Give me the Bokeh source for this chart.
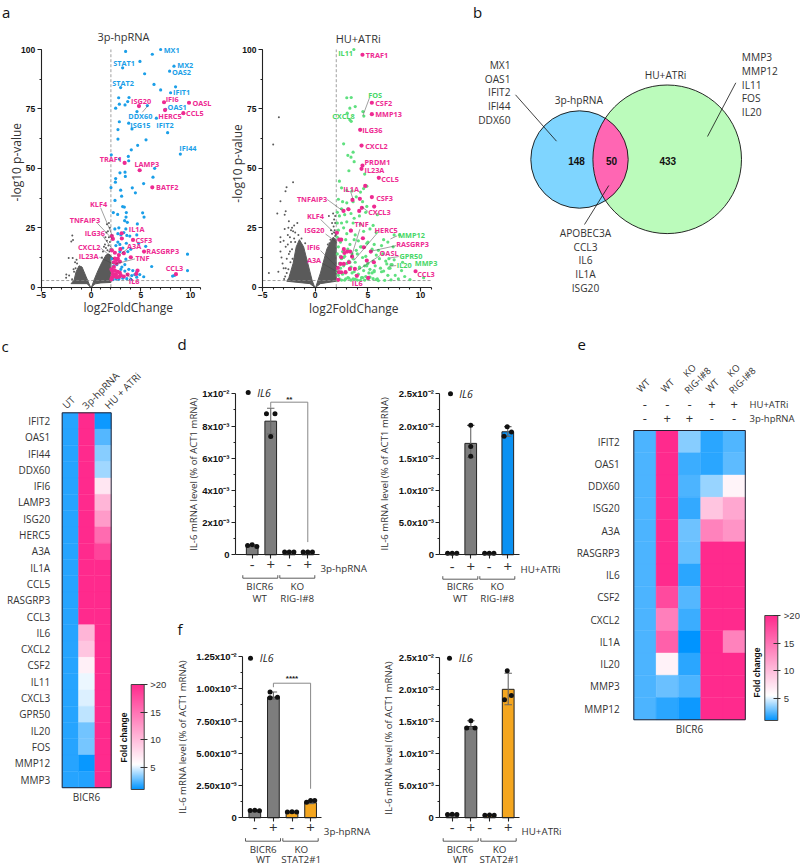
import math
import numpy as np
from bokeh.plotting import figure
from bokeh.layouts import row, column
from bokeh.embed import file_html
from bokeh.resources import INLINE
from bokeh.core.properties import value
from bokeh.models import (Range1d, LinearAxis, SingleIntervalTicker, FixedTicker,
                          LinearColorMapper, ColorBar, ColumnDataSource)
from bokeh.transform import transform

# ---------------- DATA ----------------
a_blue_x = [3.48,6.16,7.0,4.92,3.18,5.39,8.34,7.9,6.33,2.98,7.0,8.5,8.0,2.78,3.82,3.69,3.42,2.85,2.48,4.62,5.66,7.5,6.57,2.85,2.71,3.79,4.12,7.7,2.71,5.53,4.69,4.05,8.98,2.04,3.75,2.85,3.79,6.4,3.42,2.91,2.48,2.45,3.45,6.23,5.29,4.15,2.01,2.98,4.46,2.41,3.08,3.18,3.35,2.24,2.68,3.55,5.19,5.33,3.52,3.38,3.65,4.66,3.5,3.3,2.4,2.8,3.0,2.7,3.6,3.9,4.6,2.5,2.9,3.55,5.5,4.8,3.2,2.9,3.7,4.0,2.7,3.5,3.4,3.1,3.8,4.2,4.6,5.3,4.6,4.9,4.4,4.1,6.1,8.2,8.4,9.7,9.7,3.6,4.0,3.2,2.5,2.8,2.2,2.3,2.6,3.0,3.4,2.1]
a_blue_y = [99.2,98,100,95,92.3,89.8,93,90.9,85.3,84,83,84.3,81.8,79.7,79.8,78.1,76.7,77,75.3,73.9,76.4,74.8,71.1,69.6,66.3,69,66.6,65,62.3,62,59.7,57.8,56,55.7,55,53.9,53.2,50,48.4,48.1,45.7,44.2,46.6,46.3,43.6,41.8,41.9,40.8,39.7,36.5,38.3,33.9,33.7,31.4,30.6,31.4,31.3,29.5,29.5,28,27.3,26.6,24.5,23,24.5,25,22,22.5,21.8,21.5,22,17.5,18,18.5,17.2,18.4,16.5,15,15,16,19,11.8,9.5,8.5,7.5,7,6.5,4.4,4.2,5.3,5.3,4.9,8.7,4.7,5,13.9,7,3.6,3.3,3.8,3.5,3.4,3.2,9,9.5,7.5,6.8,12]
a_pink_x = [4.82,7.34,9.85,9.28,7.44,3.38,4.89,6.16,3.08,2.1,2.2,3.1,4.22,2.1,2.4,2.95,3.3,2.8,5.33,2.4,2.55,2.7,2.3,2.9,2.55,4.0,2.3,2.05,2.15,2.4,2.2,2.5,2.7,2.9,3.0,3.3,3.68,2.1,2.3,2.6,2.05,2.85,4.68,4.55,8.54]
a_pink_y = [76.2,77.8,77.6,73.2,74.5,52.3,49.2,42,22.7,21.5,20.3,20.5,19.9,15.5,14.5,16,14.3,13.5,15,12,11.5,12,10.5,10.8,10,12.6,8.5,7.5,6.8,7,5.5,5.5,6.5,6,5,4.5,5.3,4,4.5,4.2,3.3,4.4,7,5.6,5.5]
a_gray_x = [-1.88,-1.81,-1.98,-2.24,-1.84,-2.48,-2.2,-2.5,-1.75,-1.6,-1.9,1.8,1.6,1.9,1.55,1.7,1.45,1.8,1.6,1.4,1.9,1.75,1.5,1.2,1.3,1.95,1.85,1.65,1.95,1.85,1.1,-1.4,-1.55,-1.7,-1.45]
a_gray_y = [21.7,19.9,19.2,12.3,12.3,5.3,4.9,4,7.5,10.5,3.3,27,26.5,25,23,23.5,21,21,19.5,18,19,17.5,16.5,15,17,16,15,15.5,13,12,12.5,10,8,6.5,11.5]
a_left_lobe_x = [-0.05,-0.4,-2.0,-1.7,-1.5,-1.2,-0.9,-0.5,-0.2]
a_left_lobe_y = [0,1.5,1.5,3,6.5,9,8.5,4.5,1.5]
a_right_lobe_x = [0.05,0.35,0.7,1.1,1.5,1.8,2.0,2.0,1.0,0.4]
a_right_lobe_y = [0,3.5,7,10.5,13.5,14,13,2,1.8,1.4]
a_blue_names = ["MX1","STAT1","MX2","OAS2","STAT2","IFIT1","OAS1","DDX60","ISG15","IFIT2","IFI44"]
a_pink_names = ["ISG20","IFI6","OASL","HERC5","CCL5","TRAF1","LAMP3","BATF2","KLF4","TNFAIP3","IL1A","ILG36","CSF3","CXCL2","A3A","RASGRP3","IL23A","TNF","CCL3","IL6"]

b_green_x = [3.67,3.0,3.42,3.8,3.29,4.53,4.62,3.04,3.29,3.42,2.7,3.1,3.6,3.4,3.7,3.2,4.7,2.3,2.5,3.0,3.5,4.3,4.6,4.9,2.2,2.6,3.0,3.6,3.9,4.5,4.9,5.9,2.1,2.5,2.3,3.1,3.4,2.8,3.7,4.2,4.8,2.1,2.5,3.0,3.6,4.3,5.5,2.2,2.7,3.0,3.4,3.8,4.6,5.2,5.8,6.5,7.5,8.0,6.9,7.4,6.3,5.6,5.0,2.1,2.4,2.9,3.3,3.7,4.1,4.4,4.9,5.4,6.0,2.2,2.6,3.1,3.5,3.9,4.3,4.8,5.3,5.8,6.4,7.0,2.1,2.5,2.8,3.2,3.6,4.0,4.5,5.0,5.5,6.1,6.7,7.2,2.3,2.7,3.0,3.4,3.8,4.2,4.7,5.2,5.7,6.2,7.1,7.3,8.2,2.1,2.4,2.9,3.3,3.7,4.1,4.6,5.1,5.6,6.3,6.9,7.6,8.5,2.2,2.6,3.1,3.5,3.9,4.4,4.8,5.4,5.9,6.5,7.0,7.9,9.0,10.3,2.3,2.8,3.2,3.6,4.0,4.5,5.0,5.5,6.0,6.6,7.2,2.1,2.5,2.9,3.4,3.8,4.3,4.7,5.2,5.8,6.8,7.5,8.3,2.4,2.7,3.3,4.2,4.9,5.6,6.2,7.0,8.8]
b_green_y = [100,79.7,79.8,76,75.3,73.9,72,73.2,70.4,69.8,60.3,55.5,56.8,54.7,52.8,49,47.6,44.6,41.8,40.7,40.5,40,41.5,42.5,37,36,35.5,36,38,36,34,30.5,31.5,33,30,33,31,30.5,29,30,31.5,27,27,27.5,27,26.5,26,24,25,22.5,24,22,23.5,24.5,23,20,22,22,19,17,17.5,18,19,21,19,20,18,20,19.5,17,18.5,16,15.5,17,15,16,14,15.5,17,13,15,13.5,14,12,14,12,13,11,12,14,12.5,10,11,12,11,9.5,10,9,10,8.5,10.5,8,9,7.5,9,8,8,9.5,7,6.5,8,6,7.5,6.5,5.5,7,6,7,6.5,5,5,4.5,5,5.5,4,6,5,4,4.5,6,3.5,6.8,8,3.5,3.2,4,3.5,3,3.8,3.5,3,4,3.5,3.6,2.8,2.9,3.1,2.8,3,3.5,3,3.4,2.9,3,4.2,3.2,9.8,11.5,10.5,13,12.5,10.5,8.5,9,6.5]
b_pink_x = [4.49,5.38,5.38,4.27,4.4,4.49,4.4,6.04,3.54,4.24,5.38,4.75,5.6,4.43,4.18,2.69,3.16,2.06,2.28,2.47,3.39,4.53,4.62,5.28,2.72,3.04,3.32,3.5,2.47,2.78,4.9,5.57,3.2,2.4,2.72,2.15,3.29,3.77,2.25,2.88,2.47,3.96,5.03,9.53,2.18]
b_pink_y = [97.8,77.6,72.8,66.2,59.6,51.2,49.8,46,36.7,37.2,37.9,42.6,33.9,33.4,32.1,32.1,32.8,22.9,20,20,23.8,20.6,16.8,15,16,15,15,12.9,12.6,14.4,11.2,10.5,10.5,9.8,9.8,8.1,7.7,7.7,6.3,6.3,6.3,4.8,3.9,6.7,3.1]
b_gray_x = [-3.45,-3.99,-2.1,-2.72,-2.82,-3.3,-3.6,-2.8,-2.9,-2.5,-2.55,-2.9,-2.3,-2.1,-1.9,-3.3,-3.3,-3.0,-2.6,-2.8,-3.3,-3.2,-3.1,-3.0,-4.4,-3.5,-2.8,-2.7,-2.5,-1.7,-2.4,-2.2,-2.0,-2.3,-2.6,1.3,1.7,1.9,1.9,1.85,1.75,1.5,1.95,1.6,1.8,-2.0,-2.2,-2.4,-1.9,-2.15,-2.35,-2.55,-2.7,-2.85,-2.95,1.2,1.45,1.6,1.8,1.35,1.9,-0.95,-1.3,-1.6]
b_gray_y = [71.5,60,44.2,42,40.4,36.2,31,32,30.5,27.7,25,24.5,24,23.5,23,21,19,19.5,18,17,15,12.5,10,8,6,6.5,8,12,14,27,21,25,26,19,22,30,31,30,27,24,25.5,24,22,27,28.5,20.5,16,15,19,12,10.5,7.5,6,4.5,3.5,18,20,22.5,23,18.5,21.5,18.5,20.5,22]
b_left_lobe_x = [-0.05,-0.3,-0.7,-1.1,-1.5,-1.8,-2.1,-2.5,-2.7,-0.5]
b_left_lobe_y = [0,3,10,17,20,17,10,4,2.5,1.5]
b_right_lobe_x = [0.05,0.5,1.1,1.7,2.0,2.0,0.5]
b_right_lobe_y = [0,6,16,21,20,2.5,1.5]
b_green_names = ["IL11","FOS","CXCL8","MMP12","GPR50","IL20","MMP3"]
b_pink_names = ["TRAF1","CSF2","MMP13","ILG36","CXCL2","PRDM1","IL23A","CCL5","IL1A","CSF3","TNFAIP3","CXCL3","KLF4","TNF","ISG20","HERC5","RASGRP3","IFI6","OASL","A3A","IL6","CCL3"]

venn_counts = ["148","50","433"]
venn_left = ["MX1","OAS1","IFIT2","IFI44","DDX60"]
venn_right = ["MMP3","MMP12","IL11","FOS","IL20"]
venn_mid = ["APOBEC3A","CCL3","IL6","IL1A","ISG20"]

c_genes = ["IFIT2","OAS1","IFI44","DDX60","IFI6","LAMP3","ISG20","HERC5","A3A","IL1A","CCL5","RASGRP3","CCL3","IL6","CXCL2","CSF2","IL11","CXCL3","GPR50","IL20","FOS","MMP12","MMP3"]
c_cols = ["UT","3p-hpRNA","HU + ATRi"]
c_ut = [1.74]*23
c_3p = [20]*13 + [10.5,9.4,6.5,5.2,4.9,4.4,3.05,3.15,1.2,1.6]
c_hu = [1.25,2.5,3.4,3.85,7.2,10.5,12.3,15.6,18.2] + [20]*14

e_genes = ["IFIT2","OAS1","DDX60","ISG20","A3A","RASGRP3","IL6","CSF2","CXCL2","IL1A","IL20","MMP3","MMP12"]
e_wt = [2.35]*13
e_wt_3p = [20,20,20,20,20,20,20,17.8,14.2,16.3,6.4,2.9,1.75]
e_ko_3p = [3.4,2.1,2.4,1.95,2.95,2.85,1.8,2.55,2.05,1.0,1.8,2.35,1.25]
e_wt_hu = [1.8,1.75,3.7,9.4,14,20,20,20,20,20,20,20,20]
e_ko_hu = [2.45,2.7,6.2,11.5,12.8,20,20,20,20,14,20,20,20]
e_hu_signs = ["-","-","-","+","+"]
e_3p_signs = ["-","+","+","-","-"]

d1_means = [0.00055,0.0083,0.00018,0.00018]
d1_lo = [0.00050,0.0075,0.00015,0.00015]
d1_hi = [0.00062,0.0091,0.00021,0.00021]
d1_pts = [[0.00058,0.00062,0.00052],[0.00876,0.00735,0.00876],[0.00018,0.00018,0.00018],[0.00018,0.00018,0.00018]]
d2_means = [0.00025,0.0173,0.00025,0.0191]
d2_lo = [0.0002,0.0151,0.0002,0.0184]
d2_hi = [0.0003,0.0201,0.0003,0.0199]
d2_pts = [[0.00025,0.00025,0.00025],[0.0201,0.0168,0.0153],[0.00025,0.00025,0.00025],[0.0184,0.0199,0.01905]]
f1_means = [0.00055,0.00935,0.00045,0.00116]
f1_lo = [0.0005,0.0092,0.0004,0.0011]
f1_hi = [0.0006,0.00975,0.0005,0.00134]
f1_pts = [[0.00057,0.00058,0.00055],[0.0093,0.00974,0.00935],[0.00045,0.00047,0.00045],[0.00121,0.00134,0.00134]]
f2_means = [0.0005,0.0142,0.0004,0.02]
f2_lo = [0.00045,0.0138,0.00035,0.0176]
f2_hi = [0.00055,0.0151,0.00045,0.0225]
f2_pts = [[0.0005,0.00055,0.0005],[0.01396,0.0151,0.01396],[0.0004,0.00042,0.0004],[0.01837,0.02288,0.01905]]
d1_yticks = [0,0.002,0.004,0.006,0.008,0.01]
d1_ylabels = ["0","2x10⁻³","4x10⁻³","6x10⁻³","8x10⁻³","1x10⁻²"]
d2_yticks = [0,0.005,0.01,0.015,0.02,0.025]
d2_ylabels = ["0","5.0x10⁻³","1.0x10⁻²","1.5x10⁻²","2.0x10⁻²","2.5x10⁻²"]
f1_yticks = [0,0.0025,0.005,0.0075,0.01,0.0125]
f1_ylabels = ["0","2.50x10⁻³","5.00x10⁻³","7.50x10⁻³","1.00x10⁻²","1.25x10⁻²"]
f2_yticks = d2_yticks
f2_ylabels = d2_ylabels
bar_signs = ["-","+","-","+"]
d_groups = ["WT","RIG-I#8"]
f_groups = ["WT","STAT2#1"]

# ---------------- STYLE / HELPERS ----------------
SANS = "Open Sans"
ARIAL = "Liberation Sans"
PINK = "#ee2a92"
BLUE = "#1b9fe8"
GREEN = "#5fe07f"
GRAY = "#5a5a5a"
TEXTC = "#333333"
LEAD = "#444444"
J3 = [-0.25, 0.0, 0.25]
d1_jit = [J3, [-0.23, 0.0, 0.23], J3, J3]
d2_jit = [J3, [0, 0, 0], J3, [-0.2, -0.03, 0.2]]
f1_jit = [J3, [-0.18, -0.18, 0.22], J3, [-0.22, 0.0, 0.22]]
f2_jit = [J3, [-0.22, 0.0, 0.22], J3, [-0.2, -0.05, 0.17]]

def make_fig(fx0, fx1, fy0, fy1, x_px, x_s, y_px, y_s, x_v=0.0, y_v=0.0):
    xd = lambda px: x_v + (px - x_px) / x_s
    yd = lambda px: y_v + (y_px - px) / y_s
    p = figure(width=fx1 - fx0, height=fy1 - fy0,
               x_range=Range1d(xd(fx0), xd(fx1)), y_range=Range1d(yd(fy1), yd(fy0)),
               output_backend="svg", toolbar_location=None,
               x_axis_location=None, y_axis_location=None,
               min_border=0, min_border_left=0, min_border_right=0, min_border_top=0, min_border_bottom=0,
               outline_line_color=None, tools="")
    p.grid.visible = False
    return p, xd, yd

def txt(p, x, y, s, size, color=TEXTC, font=SANS, align="left", baseline="middle", style="normal", angle=0):
    p.text(x=[x], y=[y], text=[s], text_font=value(font), text_font_size=f"{size}px",
           text_color=color, text_align=align, text_baseline=baseline, text_font_style=style, angle=angle)

def style_axis(ax, lw=1.1):
    ax.axis_line_color = "#222222"
    ax.axis_line_width = lw
    ax.major_tick_line_color = "#222222"
    ax.minor_tick_line_color = "#222222"
    ax.major_tick_line_width = lw
    ax.minor_tick_line_width = lw

def volcano(fx0, fx1, x0px, xs, title, title_x, title_y, letter, ylab, xlab):
    p, xd, yd = make_fig(fx0, fx1, 0, 322, x0px, xs, 286.7, 2.377)
    xa = LinearAxis(ticker=SingleIntervalTicker(interval=5, num_minor_ticks=5), fixed_location=0, bounds=(-5, 11))
    ya = LinearAxis(ticker=SingleIntervalTicker(interval=25, num_minor_ticks=2), fixed_location=-5, bounds=(0, 100))
    for ax in (xa, ya):
        style_axis(ax)
        ax.major_tick_in = 0
        ax.minor_tick_in = 0
        ax.major_tick_out = 4
        ax.minor_tick_out = 2
        ax.major_label_text_font = ARIAL
        ax.major_label_text_font_style = "bold"
        ax.major_label_text_font_size = "8.5px"
        ax.major_label_text_color = "#111111"
    xa.major_label_standoff = 1
    ya.major_label_standoff = 2
    p.add_layout(xa, "below")
    p.add_layout(ya, "left")
    txt(p, xd(xlab[0]), yd(xlab[1]), "log2FoldChange", 12, align="center")
    txt(p, xd(ylab[0]), yd(ylab[1]), "-log10 p-value", 12, align="center", angle=math.pi / 2)
    txt(p, xd(title_x), yd(title_y), title, 11, align="center")
    if letter:
        txt(p, xd(1.5), yd(11), letter, 15, color="#111111")
    return p, xd, yd

def gray_cloud(p, lobes, gx, gy):
    for lx, ly in lobes:
        p.patch(lx, ly, fill_color=GRAY, line_color=GRAY, line_width=1)
    p.scatter(gx, gy, size=2, color=GRAY, line_color=None)

def thresholds(p):
    p.line([2, 2], [0, 100], line_color="#888888", line_width=0.8, line_dash="3 2")
    p.line([-5, 11], [2.8, 2.8], line_color="#888888", line_width=0.8, line_dash="3 2")

def labels(p, names, xs, ys, color):
    p.text(x=xs, y=ys, text=names, text_font=value(SANS), text_font_size="7.3px", text_color=color,
           text_font_style="bold", text_align="left", text_baseline="middle")

def leaders(p, segs):
    p.segment([s[0] for s in segs], [s[1] for s in segs], [s[2] for s in segs], [s[3] for s in segs],
              line_color=LEAD, line_width=0.5)

# ---- volcano a ----
va, _, _ = volcano(0, 228, 90.5, 9.95, "3p-hpRNA", 123, 35.7, "a", (15.7, 161.7), (127.7, 307.3))
gray_cloud(va, [(a_left_lobe_x, a_left_lobe_y), (a_right_lobe_x, a_right_lobe_y)], a_gray_x, a_gray_y)
thresholds(va)
va.scatter(a_blue_x, a_blue_y, size=3.2, color=BLUE, line_color=None)
va.scatter(a_pink_x, a_pink_y, size=4.2, color=PINK, line_color=None)
leaders(va, [(0.97,33.4,2.14,21.7),(0.64,26.9,2.14,20.3),(1.14,21.7,2.14,16.1),(.97,16.5,2.31,11.9),(.84,12.6,2.24,9.8),
             (4.42,11.9,2.48,9.8),(4.25,2.8,3.48,5.9),(5.16,73.6,5.73,76.4),(3.65,16.1,2.98,14)])
labels(va, a_blue_names, [7.30,2.24,8.68,8.14,2.14,8.24,7.7,3.75,3.95,6.57,8.88],
       [99.9,94.5,93.4,90.5,86.1,82,75.7,72.1,68.4,68.4,58.5], BLUE)
labels(va, a_pink_names, [4.02,7.5,10.2,6.77,9.55,0.87,4.36,6.53,-0.1,-2.14,3.79,-0.64,4.46,-1.31,3.62,5.56,-1.24,4.46,7.5,3.79],
       [78.3,79.1,77.6,72,73.2,53.9,51.8,42.1,35.1,28.3,24.4,23,19.9,17,17.3,15.1,13,12.3,8,2.4], PINK)

# ---- volcano b ----
vb, _, _ = volcano(228, 462, 314.7, 10.53, "HU+ATRi", 357.7, 38, None, (237.3, 163), (353.3, 308))
gray_cloud(vb, [(b_left_lobe_x, b_left_lobe_y), (b_right_lobe_x, b_right_lobe_y)], b_gray_x, b_gray_y)
thresholds(vb)
vb.scatter(b_green_x, b_green_y, size=3.2, color=GREEN, line_color=None)
vb.scatter(b_pink_x, b_pink_y, size=4.2, color=PINK, line_color=None)
leaders(vb, [(5.16,79.7,4.53,72.2),(1.14,36.9,2.56,32.3),(.51,28.5,2.09,21.7),(.98,22.4,2.09,18.7),(.51,15.4,2.09,8.4),
             (.66,10.1,2.15,6.3),(4.24,24.4,3.42,12.6),(5.82,22.4,3.67,11.2),(7.69,17.5,5.25,15.1),(6.14,13.3,3.99,7),
             (5.03,31.8,4.46,33.7),(3.35,40.4,3.58,37.2),(7.94,12.9,7.09,12.3),(7.69,9.1,6.99,8.8),(7.78,21.6,7.15,20.3)])
labels(vb, b_green_names, [2.18,5.03,1.61,7.88,8.0,7.75,9.46], [98.6,81,72,21.9,13.3,9.4,10.2], "#47d767")
labels(vb, b_pink_names, [4.81,5.7,5.7,4.46,4.75,4.68,4.68,6.27,2.66,5.79,-1.74,5.03,-0.79,3.73,-1.04,5.63,7.69,-0.79,6.11,-0.79,3.48,9.68],
       [97.8,77.3,72.9,66.2,59.6,52.7,49.5,45.7,41.5,37.7,37.2,31.6,29.9,26.4,24.1,24.1,18,16.8,14.4,11.5,1.8,5.6], PINK)

# ---- venn b (page-pixel diagram) ----
vn, vx, vy = make_fig(462, 800, 0, 322, 0, 1, 0, -1)
c1 = (579.0, 159.0, 48.7)
c2 = (666.7, 158.8, 74.3)
vn.scatter([c1[0]], [c1[1]], size=2 * c1[2], fill_color="#7fd5ff", line_color=None)
vn.scatter([c2[0]], [c2[1]], size=2 * c2[2], fill_color="#bbfbbb", line_color=None)
d = c2[0] - c1[0]
a_ = (d**2 + c1[2]**2 - c2[2]**2) / (2 * d)
ang1 = math.acos(a_ / c1[2])
ang2 = math.acos((d - a_) / c2[2])
t1 = np.linspace(-ang1, ang1, 60)
t2 = np.linspace(math.pi - ang2, math.pi + ang2, 60)
lens_x = np.concatenate([c1[0] + c1[2] * np.cos(t1), c2[0] + c2[2] * np.cos(t2)])
lens_y = np.concatenate([c1[1] + c1[2] * np.sin(t1), c2[1] + c2[2] * np.sin(t2)])
vn.patch(lens_x, lens_y, fill_color="#ff66b3", line_color=None)
vn.scatter([c1[0]], [c1[1]], size=2 * c1[2], fill_color=None, line_color="#111111", line_width=0.9)
vn.scatter([c2[0]], [c2[1]], size=2 * c2[2], fill_color=None, line_color="#111111", line_width=0.9)
for s, x in zip(venn_counts, [576, 611, 667.3]):
    txt(vn, x, 160, s, 10, color="#111111", font=ARIAL, align="center", style="bold")
for s, y in zip(venn_left, [64.3, 78, 91.7, 105.3, 119.3]):
    txt(vn, 510, y, s, 10.2, align="right")
for s, y in zip(venn_right, [56.7, 70.3, 84, 97.7, 111.7]):
    txt(vn, 741.3, y, s, 10.2, align="left")
for s, y in zip(venn_mid, [232, 246, 259.7, 273.3, 287.3]):
    txt(vn, 585, y, s, 10.2, align="center")
txt(vn, 578.3, 99, "3p-hpRNA", 10.2, align="center")
txt(vn, 665, 74, "HU+ATRi", 10.2, align="center")
vn.segment([515, 735.3, 608.3], [94.3, 82.3, 185], [556, 707, 584], [140.7, 136, 224], line_color="#111111", line_width=0.8)
txt(vn, 472.5, 11, "b", 15, color="#111111")

# ---- heatmaps ----
def ramp(anchors, n=256):
    vs = np.array([a[0] for a in anchors])
    cs = np.array([[int(a[1][i:i+2], 16) for i in (1, 3, 5)] for a in anchors], float)
    grid = np.linspace(1, 20, n)
    out = []
    for g in grid:
        rgb = [np.interp(g, vs, cs[:, k]) for k in range(3)]
        out.append("#%02x%02x%02x" % tuple(int(round(c)) for c in rgb))
    return out

palette = ramp([(1, "#0094ff"), (5.5, "#ffffff"), (20, "#ff2a8d")])
mapper = LinearColorMapper(palette=palette, low=1, high=20)

def heat(p, cols, genes, frame_color="#222233"):
    xs, ys, vs = [], [], []
    for i, col in enumerate(cols):
        for j, v in enumerate(col):
            xs.append(i); ys.append(j); vs.append(v)
    src = ColumnDataSource(dict(x=xs, y=ys, v=vs))
    p.rect("x", "y", width=1, height=1, source=src, fill_color=transform("v", mapper),
           line_color=transform("v", mapper), line_width=0.4)
    p.rect([(len(cols) - 1) / 2], [(len(genes) - 1) / 2], width=len(cols), height=len(genes),
           fill_color=None, line_color=frame_color, line_width=1)
    ya = LinearAxis(ticker=FixedTicker(ticks=list(range(len(genes)))), fixed_location=-0.5,
                    major_label_overrides={i: g for i, g in enumerate(genes)})
    ya.axis_line_color = None
    ya.major_tick_line_color = None
    ya.minor_tick_line_color = None
    ya.major_label_text_font = SANS
    ya.major_label_text_font_size = "10px"
    ya.major_label_text_color = TEXTC
    p.add_layout(ya, "left")
    return ya

def colorbar(p, left, bottom):
    cb = ColorBar(color_mapper=mapper, width=13, height=105, location=(left, bottom), padding=0,
                  ticker=FixedTicker(ticks=[5, 10, 15, 20]), major_label_overrides={20: ">20"},
                  background_fill_color=None, border_line_color=None, bar_line_color="#444444", bar_line_width=1,
                  major_tick_line_color="#333333", major_tick_in=4, major_tick_out=3,
                  major_label_text_font=ARIAL, major_label_text_font_size="9.5px", major_label_text_color=TEXTC,
                  minor_tick_line_color=None, label_standoff=3)
    p.add_layout(cb, "center")

# c
hc, cx, cy = make_fig(0, 172, 322, 866, 61.7 + 16.33 / 2, 16.33, 412.3 + 16.3 / 2, -16.3)
yac = heat(hc, [c_ut, c_3p, c_hu], c_genes)
yac.major_label_standoff = 6
for s, (x, y) in zip(c_cols, [(68, 401.7), (100, 390), (122, 390)]):
    txt(hc, cx(x), cy(y), s, 10, align="center", angle=math.pi / 4)
txt(hc, cx(86), cy(796), "BICR6", 10, align="center")
txt(hc, cx(1), cy(345), "c", 15, color="#111111")
colorbar(hc, 130.7, 866 - 789)
txt(hc, cx(123), cy(737), "Fold change", 8.5, color="#111111", font=ARIAL, align="center", style="bold", angle=math.pi / 2)

# e
he, ex, ey = make_fig(575, 800, 322, 866, 633.3 + 22.3 / 2, 22.3, 430 + 22.25 / 2, -22.25)
yae = heat(he, [e_wt, e_wt_3p, e_ko_3p, e_wt_hu, e_ko_hu], e_genes)
yae.major_label_standoff = 8
for s, (x, y) in zip(["WT", "WT", "KO", "RIG-I#8", "WT", "KO", "RIG-I#8"],
                     [(642.7, 385), (667, 385), (689, 370), (697, 380), (711.7, 385), (733, 370), (741.7, 380)]):
    txt(he, ex(x), ey(y), s, 9.5, align="center", angle=math.pi / 4)
for i, (a, b) in enumerate(zip(e_hu_signs, e_3p_signs)):
    txt(he, i, ey(404), a, 13, align="center")
    txt(he, i, ey(418), b, 13, align="center")
txt(he, ex(749), ey(404), "HU+ATRi", 9.5)
txt(he, ex(749), ey(418), "3p-hpRNA", 9.5)
txt(he, ex(689), ey(728), "BICR6", 10, align="center")
txt(he, ex(577), ey(344), "e", 15, color="#111111")
colorbar(he, 764.3 - 575, 866 - 720)
txt(he, ex(756), ey(672), "Fold change", 8.5, color="#111111", font=ARIAL, align="center", style="bold", angle=math.pi / 2)

# ---- bars ----
def bars(fx0, fx1, fy0, fy1, x0px, dx, y0px, ymax, ytop_px, axis_left, axis_right, means, lo, hi, pts, jit, colors,
         yticks, ylabels, minor, treat, treat_x, group_x, br, sign_y, br_y, lab_y, groups, legend, ylab, letter=None, sig=None):
    ys = (y0px - ytop_px) / ymax
    p, xd, yd = make_fig(fx0, fx1, fy0, fy1, x0px, dx, y0px, ys)
    xs = [0, 1, 2, 3]
    p.vbar(x=xs, top=means, bottom=0, width=0.63, fill_color=colors, line_color="#222222", line_width=1)
    p.segment(xs, lo, xs, hi, line_color="#666666", line_width=1.1)
    p.segment([x - 0.2 for x in xs], hi, [x + 0.2 for x in xs], hi, line_color="#666666", line_width=1.1)
    p.segment([x - 0.2 for x in xs], lo, [x + 0.2 for x in xs], lo, line_color="#666666", line_width=1.1)
    for i, vals in enumerate(pts):
        p.scatter([xs[i] + j for j in jit[i]], vals, size=5, color="#111111", line_color=None)
    ya = LinearAxis(ticker=FixedTicker(ticks=yticks, minor_ticks=minor), fixed_location=axis_left, bounds=(0, ymax),
                    major_label_overrides={t: l for t, l in zip(yticks, ylabels)})
    xa = LinearAxis(ticker=FixedTicker(ticks=xs), fixed_location=0, bounds=(axis_left, axis_right),
                    major_label_overrides={i: s for i, s in enumerate(bar_signs)})
    for ax in (xa, ya):
        style_axis(ax)
        ax.major_tick_in = 0
        ax.minor_tick_in = 0
        ax.major_tick_out = 4
        ax.minor_tick_out = 2
    ya.major_label_text_font = ARIAL
    ya.major_label_text_font_style = "bold"
    ya.major_label_text_font_size = "9.5px"
    ya.major_label_text_color = "#111111"
    ya.major_label_standoff = 2
    xa.major_label_text_font = SANS
    xa.major_label_text_font_size = "15px"
    xa.major_label_text_color = TEXTC
    xa.major_label_standoff = int(max(0, sign_y - y0px - 12))
    p.add_layout(xa, "below")
    p.add_layout(ya, "left")
    txt(p, xd(ylab[0]), yd(ylab[1]), "IL-6 mRNA level (% of ACT1 mRNA)", 9.6, align="center", angle=math.pi / 2)
    txt(p, xd(treat_x), yd(sign_y), treat, 9.8)
    for l, r in br:
        p.line([xd(l), xd(l), xd(r), xd(r)], [yd(br_y - 3), yd(br_y), yd(br_y), yd(br_y - 3)], line_color="#333333", line_width=0.8)
    for gx, top, bot in zip(group_x, ["BICR6", "KO"], groups):
        txt(p, xd(gx), yd(lab_y[0]), top, 9.8, align="center")
        txt(p, xd(gx), yd(lab_y[1]), bot, 9.8, align="center")
    lx, ly, tx = legend
    p.scatter([xd(lx)], [yd(ly)], size=5, color="#111111", line_color=None)
    txt(p, xd(tx), yd(ly), "IL6", 10.5, style="italic", color="#222222")
    if letter:
        txt(p, xd(letter[0]), yd(letter[1]), letter[2], 15, color="#111111")
    if sig:
        a, b, top, dl, dr, s, sy = sig
        p.line([a, a, b, b], [dl, top, top, dr], line_color="#888888", line_width=1)
        txt(p, (a + b) / 2, yd(sy), s, 8, color="#222222", font=ARIAL, align="center", style="bold")
    return p

G = "#7d7d7d"
O = "#f4a61f"
B = "#0b91f2"
d1 = bars(172, 376, 322, 604, 251.7, 18.53, 554.3, 0.01, 393.3, -0.9, 3.65, d1_means, d1_lo, d1_hi, d1_pts, d1_jit, [G, G, G, G],
          d1_yticks, d1_ylabels, [0.001, 0.003, 0.005, 0.007, 0.009], "3p-hpRNA", 320, [259.3, 296.7],
          [(242.3, 277.3), (279.3, 314.3)], 567.7, 577.7, (586, 598.3), d_groups, (247.7, 392, 256.7), (193, 473.7),
          letter=(177, 343, "d"), sig=(1, 3, 0.00948, 0.00913, 0.00079, "**", 399))
d2 = bars(376, 575, 322, 604, 451.7, 18.53, 554.3, 0.025, 393.3, -0.66, 3.65, d2_means, d2_lo, d2_hi, d2_pts, d2_jit, [G, G, G, B],
          d2_yticks, d2_ylabels, [0.0025, 0.0075, 0.0125, 0.0175, 0.0225], "HU+ATRi", 520, [459.7, 496.7],
          [(442.3, 477.3), (479.3, 514.3)], 569.3, 578.7, (586, 598.3), d_groups, (450, 393.3, 458.7), (384.3, 473.3))
f1 = bars(172, 376, 604, 866, 254.3, 18.6, 817.3, 0.0125, 656, -0.65, 3.6, f1_means, f1_lo, f1_hi, f1_pts, f1_jit, [G, G, O, O],
          f1_yticks, f1_ylabels, [0.00125, 0.00375, 0.00625, 0.00875, 0.01125], "3p-hpRNA", 323.3, [262.7, 300.7],
          [(245, 280), (282.3, 317.7)], 831, 840.7, (848.5, 859), f_groups, (250, 657.7, 259.3), (182, 736.5),
          letter=(177, 628, "f"), sig=(1, 3, 0.01043, 0.01012, 0.00225, "****", 678))
f2 = bars(376, 575, 604, 866, 451.7, 18.67, 817.3, 0.025, 656.7, -0.66, 3.6, f2_means, f2_lo, f2_hi, f2_pts, f2_jit, [G, G, O, O],
          f2_yticks, f2_ylabels, [0.0025, 0.0075, 0.0125, 0.0175, 0.0225], "HU+ATRi", 521, [459.7, 499],
          [(442.7, 477.7), (480.3, 515.7)], 831, 840.7, (848.5, 859), f_groups, (449, 657.7, 458.3), (388.3, 737.5))

layout = column(row(va, vb, vn), row(hc, column(row(d1, d2), row(f1, f2)), he))
open("out.html", "w").write(file_html(layout, INLINE))
